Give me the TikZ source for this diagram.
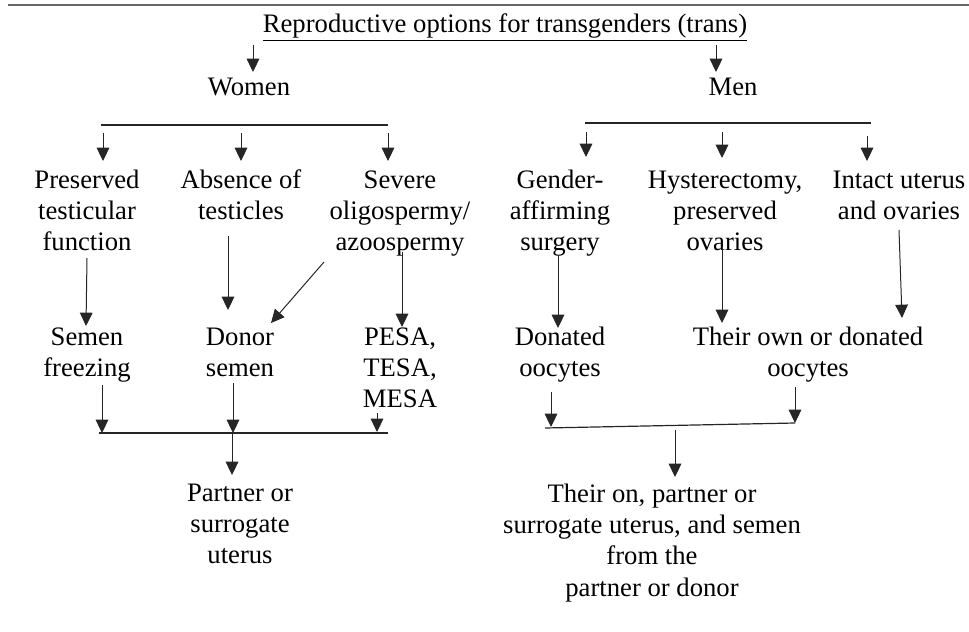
\documentclass[tikz,border=0pt]{standalone}
\usepackage{fontspec}
\setmainfont{Liberation Serif}
\usetikzlibrary{arrows.meta,calc}
\newcommand{\toprule}{\rule{0pt}{16.5pt}}
\begin{document}
\begin{tikzpicture}[x=0.75pt,y=-0.75pt,
  lbl/.style={inner sep=0pt, align=center, anchor=north, font=\fontsize{20}{23.5}\selectfont},
  arr/.style={draw=black!85, line width=0.75pt, -{Triangle[length=10pt,width=9.5pt]}},
  barline/.style={draw=black!85, line width=0.9pt}]
\useasboundingbox (0,0) rectangle (969,631);
\draw[draw=black!60, line width=0.9pt] (8,5) -- (969,5);

% nodes
\node[lbl] (title) at (505,10) {\toprule\underline{Reproductive options for transgenders (trans)}};
\node[lbl] (women) at (249,73) {\toprule Women};
\node[lbl] (men) at (733,73) {\toprule Men};
\node[lbl] (ptf) at (87,166) {\toprule Preserved\\testicular\\function};
\node[lbl] (abs) at (241,166) {\toprule Absence of\\testicles};
\node[lbl] (sev) at (400,166) {\toprule Severe\\oligospermy/\\azoospermy};
\node[lbl] (gas) at (560,166) {\toprule Gender-\\affirming\\surgery};
\node[lbl] (hys) at (725,166) {\toprule Hysterectomy,\\preserved\\ovaries};
\node[lbl] (int) at (899,166) {\toprule Intact uterus\\and ovaries};
\node[lbl] (sf) at (87,323) {\toprule Semen\\freezing};
\node[lbl] (ds) at (240,323) {\toprule Donor\\semen};
\node[lbl] (pesa) at (400,323) {\toprule PESA,\\TESA,\\MESA};
\node[lbl] (don) at (560,323) {\toprule Donated\\oocytes};
\node[lbl] (tod) at (808,323) {\toprule Their own or donated\\oocytes};
\node[lbl] (pu) at (240,479) {\toprule Partner or\\surrogate\\uterus};
\node[lbl] (tu) at (652,480) {\toprule Their on, partner or\\surrogate uterus, and semen\\from the\\partner or donor};

% bars
\coordinate (wbl) at (101,125); \coordinate (wbr) at (388,125);
\coordinate (mbl) at (585,123); \coordinate (mbr) at (871,123);
\coordinate (wdl) at (99,433);  \coordinate (wdr) at (388,433);
\coordinate (mdl) at (545,428); \coordinate (mdr) at (795,423);
\draw[barline] (wbl) -- (wbr);
\draw[barline] (mbl) -- (mbr);
\draw[barline] (wdl) -- (wdr);
\draw[barline] (mdl) -- (mdr);

% title to women / men
\draw[arr] ($(women.north)+(4,-28)$) -- ($(women.north)+(4,-1)$);
\draw[arr] ($(men.north)+(-17,-28)$) -- ($(men.north)+(-17,-1)$);

% top bars to categories
\draw[arr] ($(ptf.north)+(16,-33)$) -- ($(ptf.north)+(16,-5)$);
\draw[arr] ($(abs.north)+(0,-33)$) -- ($(abs.north)+(0,-5)$);
\draw[arr] ($(sev.north)+(-12,-33)$) -- ($(sev.north)+(-12,-5)$);
\draw[arr] ($(gas.north)+(26,-34)$) -- ($(gas.north)+(26,-9)$);
\draw[arr] ($(hys.north)+(-3,-34)$) -- ($(hys.north)+(-3,-8)$);
\draw[arr] ($(int.north)+(-32,-30)$) -- ($(int.north)+(-32,-5)$);

% categories to options
\draw[arr] ($(ptf.north)+(0,92)$) -- ($(sf.north)+(-1,3)$);
\draw[arr] ($(abs.north)+(-13,70)$) -- ($(ds.north)+(-12,-13)$);
\draw[arr] ($(sev.north)+(-76,96)$) -- ($(ds.north)+(31,0)$);
\draw[arr] ($(sev.north)+(2,86)$) -- ($(pesa.north)+(2,4)$);
\draw[arr] ($(gas.north)+(-2,89)$) -- ($(don.north)+(-2,5)$);
\draw[arr] ($(hys.north)+(-3,81)$) -- ($(tod.north)+(-86,0)$);
\draw[arr] ($(int.north)+(0,64)$) -- ($(tod.north)+(94,-5)$);

% options to bottom bars
\draw[arr] ($(sf.north)+(15,62)$) -- ($(sf.north)+(15,110)$);
\draw[arr] ($(ds.north)+(-7,60)$) -- ($(ds.north)+(-7,110)$);
\draw[arr] ($(pesa.north)+(-23,90)$) -- ($(pesa.north)+(-23,109)$);
\draw[arr] ($(don.north)+(-9,69)$) -- ($(don.north)+(-9,104)$);
\draw[arr] ($(tod.north)+(-13,64)$) -- ($(tod.north)+(-13,100)$);

% bottom bars to outcomes
\draw[arr] ($(pu.north)+(-8,-46)$) -- ($(pu.north)+(-8,-4)$);
\draw[arr] ($(tu.north)+(23,-50)$) -- ($(tu.north)+(23,-3)$);
\end{tikzpicture}
\end{document}
